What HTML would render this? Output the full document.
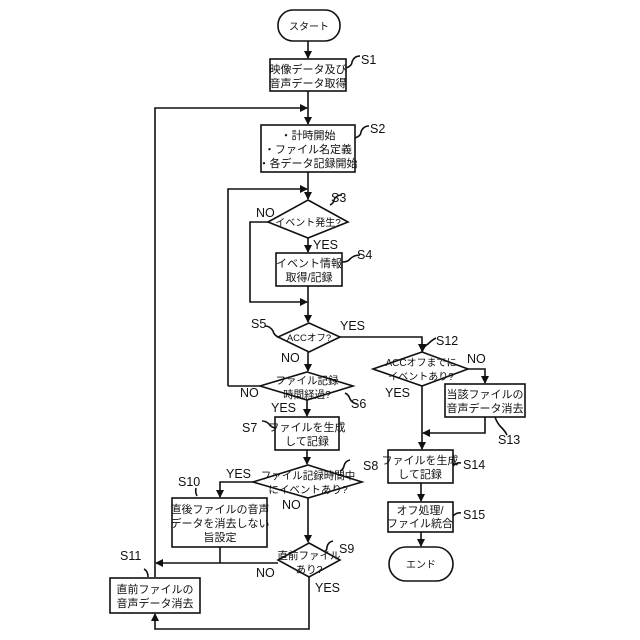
<!DOCTYPE html>
<html><head><meta charset="utf-8"><style>body{margin:0;background:#fff}svg{display:block}text{font-family:"Liberation Sans","Noto Sans CJK JP",sans-serif;fill:#111}</style></head><body>
<svg width="640" height="640" viewBox="0 0 640 640" xmlns="http://www.w3.org/2000/svg">
<defs><marker id="a" markerWidth="8" markerHeight="8" refX="7" refY="4" orient="auto" markerUnits="userSpaceOnUse"><path d="M0,0 L8,4 L0,8 Z" fill="#111"/></marker></defs>
<g stroke="#111" stroke-width="1.6" fill="none">
<rect x="278" y="10" width="62" height="31" rx="15"/>
<rect x="270" y="59" width="76" height="32"/>
<rect x="261" y="125" width="94" height="47"/>
<path d="M308,200 L348,222 L308,238 L268,222 Z"/>
<rect x="276" y="253" width="66" height="33"/>
<path d="M309,323 L340,337 L309,352 L278,337 Z"/>
<path d="M307,372 L353,386 L307,400 L260,386 Z"/>
<rect x="275" y="417" width="64" height="33"/>
<path d="M308,465 L362,482 L308,498 L253,482 Z"/>
<rect x="172" y="498" width="95" height="49"/>
<path d="M309,543 L340,560 L309,577 L278,560 Z"/>
<rect x="110" y="578" width="90" height="35"/>
<path d="M422,352 L468,369 L422,386 L373,369 Z"/>
<rect x="445" y="384" width="80" height="33"/>
<rect x="388" y="450" width="65" height="33"/>
<rect x="388" y="502" width="65" height="30"/>
<rect x="389" y="547" width="64" height="34" rx="17"/>
<!-- main flow -->
<path d="M308,41 V58" marker-end="url(#a)"/>
<path d="M308,91 V124" marker-end="url(#a)"/>
<path d="M155,577 V108 H307" marker-end="url(#a)"/>
<path d="M308,172 V199" marker-end="url(#a)"/>
<path d="M228,386 V189 H307" marker-end="url(#a)"/>
<path d="M308,238 V252" marker-end="url(#a)"/>
<path d="M268,222 H250 V302 H307" marker-end="url(#a)"/>
<path d="M308,286 V322" marker-end="url(#a)"/>
<path d="M308,352 V371" marker-end="url(#a)"/>
<path d="M260,386 H228"/>
<path d="M307,400 V416" marker-end="url(#a)"/>
<path d="M307,450 V464" marker-end="url(#a)"/>
<path d="M253,482 H220 V497" marker-end="url(#a)"/>
<path d="M308,498 V542" marker-end="url(#a)"/>
<path d="M220,547 V563"/>
<path d="M278,563 H156" marker-end="url(#a)"/>
<path d="M309,577 V629 H155 V614" marker-end="url(#a)"/>
<path d="M340,337 H422 V351" marker-end="url(#a)"/>
<path d="M468,369 H485 V383" marker-end="url(#a)"/>
<path d="M485,417 V433 H423" marker-end="url(#a)"/>
<path d="M422,386 V449" marker-end="url(#a)"/>
<path d="M421,483 V501" marker-end="url(#a)"/>
<path d="M421,532 V546" marker-end="url(#a)"/>
<!-- label squiggles -->
<path d="M346,68 q6,-2 6,-6 q2,-6 8,-6"/>
<path d="M355,138 q6,-2 6,-6 q2,-6 8,-6"/>
<path d="M330,205 q4,-2 4,-5 q2,-5 8,-5"/>
<path d="M342,262 q6,0 8,-3 q4,-4 10,-4"/>
<path d="M278,337 q-4,-2 -5,-6 q-3,-5 -8,-5"/>
<path d="M422,352 q2,-6 6,-8 q4,-4 8,-6"/>
<path d="M345,393 q4,2 5,6 q2,4 7,5"/>
<path d="M275,428 q-4,-1 -6,-4 q-3,-3 -7,-3"/>
<path d="M340,471 q3,-1 4,-5 q1,-5 6,-6"/>
<path d="M197,496 q-2,-4 -1,-8"/>
<path d="M324,552 q3,-1 3,-5 q1,-5 6,-6"/>
<path d="M495,417 q2,6 6,10 q4,4 6,8"/>
<path d="M453,466 q4,-4 8,-3"/>
<path d="M453,516 q4,-4 8,-3"/>
<path d="M148,577 q0,-6 -4,-8"/>
</g>
<g font-size="11" text-anchor="middle">
<text x="309" y="30" font-size="10">スタート</text>
<text x="308" y="73">映像データ及び</text>
<text x="308" y="87">音声データ取得</text>
<text x="308" y="139">・計時開始</text>
<text x="308" y="153">・ファイル名定義</text>
<text x="308" y="167">・各データ記録開始</text>
<text x="308" y="226" font-size="10">イベント発生?</text>
<text x="309" y="267">イベント情報</text>
<text x="309" y="281">取得/記録</text>
<text x="309" y="341" font-size="9.5">ACCオフ?</text>
<text x="307" y="384" font-size="10.5">ファイル記録</text>
<text x="307" y="398" font-size="10.5">時間経過?</text>
<text x="307" y="431">ファイルを生成</text>
<text x="307" y="445">して記録</text>
<text x="308" y="479" font-size="10.5">ファイル記録時間中</text>
<text x="308" y="493" font-size="10.5">にイベントあり?</text>
<text x="220" y="513">直後ファイルの音声</text>
<text x="220" y="527">データを消去しない</text>
<text x="220" y="541">旨設定</text>
<text x="309" y="559" font-size="10.5">直前ファイル</text>
<text x="309" y="573" font-size="10.5">あり?</text>
<text x="155" y="593">直前ファイルの</text>
<text x="155" y="607">音声データ消去</text>
<text x="421" y="366" font-size="10">ACCオフまでに</text>
<text x="421" y="380" font-size="10">イベントあり?</text>
<text x="485" y="398">当該ファイルの</text>
<text x="485" y="412">音声データ消去</text>
<text x="420" y="464">ファイルを生成</text>
<text x="420" y="478">して記録</text>
<text x="420" y="514">オフ処理/</text>
<text x="420" y="527">ファイル統合</text>
<text x="421" y="568" font-size="10">エンド</text>
</g>
<g font-size="12.5">
<text x="361" y="64">S1</text><text x="370" y="133">S2</text><text x="331" y="202">S3</text>
<text x="357" y="259">S4</text><text x="251" y="328">S5</text><text x="351" y="408">S6</text>
<text x="242" y="432">S7</text><text x="363" y="470">S8</text><text x="178" y="486">S10</text>
<text x="339" y="553">S9</text><text x="120" y="560">S11</text><text x="436" y="345">S12</text>
<text x="498" y="444">S13</text><text x="463" y="469">S14</text><text x="463" y="519">S15</text>
<text x="256" y="217">NO</text><text x="313" y="249">YES</text><text x="340" y="330">YES</text>
<text x="281" y="362">NO</text><text x="240" y="397">NO</text><text x="271" y="412">YES</text>
<text x="226" y="478">YES</text><text x="282" y="509">NO</text><text x="256" y="577">NO</text>
<text x="315" y="592">YES</text><text x="467" y="363">NO</text><text x="385" y="397">YES</text>
</g>
</svg>
</body></html>
